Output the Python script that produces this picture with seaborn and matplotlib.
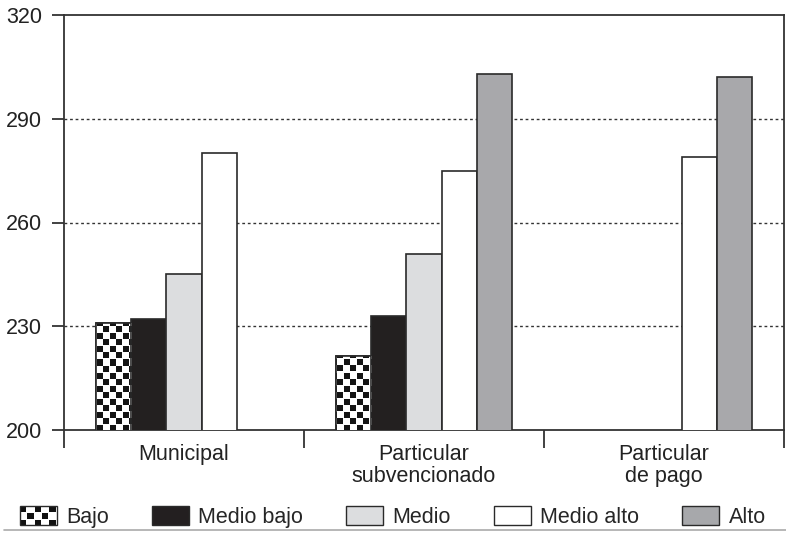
import numpy as np
import pandas as pd
import matplotlib
matplotlib.use("Agg")
import matplotlib.pyplot as plt
import seaborn as sns
from matplotlib.patches import Rectangle
from matplotlib.lines import Line2D
from matplotlib.legend_handler import HandlerBase

# ---- data ----
categories = ["Municipal", "Particular\nsubvencionado", "Particular\nde pago"]
levels = ["Bajo", "Medio bajo", "Medio", "Medio alto", "Alto"]
bajo = [231, 221.5, np.nan]
medio_bajo = [232, 233, np.nan]
medio = [245, 251, np.nan]
medio_alto = [280, 275, 279]
alto = [np.nan, 303, 302]
y_ticks = [200, 230, 260, 290, 320]

series = {"Bajo": bajo, "Medio bajo": medio_bajo, "Medio": medio,
          "Medio alto": medio_alto, "Alto": alto}
rows = []
for lev in levels:
    for cat, v in zip(categories, series[lev]):
        rows.append({"cat": cat, "level": lev, "value": v})
df = pd.DataFrame(rows)

colors = {"Bajo": "#ffffff", "Medio bajo": "#231f20", "Medio": "#dcdddf",
          "Medio alto": "#ffffff", "Alto": "#a7a8ab"}
edge = "#2a2a2a"
FS = 15.5

sns.set_style("white")
plt.rcParams["font.family"] = ["Liberation Sans", "DejaVu Sans"]

fig = plt.figure(figsize=(7.86, 5.39), dpi=100)
ax = fig.add_axes([64/786, 109/539, 720/786, 415/539])

sns.barplot(data=df, x="cat", y="value", hue="level", order=categories,
            hue_order=levels, palette=colors, width=0.73, gap=0,
            edgecolor=edge, linewidth=1.2, ax=ax, legend=False, zorder=3)

ax.set_xlim(-0.5, 2.5)
ax.set_ylim(200, 320)

# checker pattern for Bajo bars
H, W = 415, 720
ii, jj = np.mgrid[0:H, 0:W]
cell = 6.5
ci = np.floor(ii / cell).astype(int)
cj = np.floor(jj / cell).astype(int)
pat = ((ci + cj) % 2 == 0) & ((ii - ci * cell) < 5.8) & ((jj - cj * cell) < 5.8)
img = np.where(pat, 0.08, 1.0)

for bar in ax.containers[0]:
    if np.isfinite(bar.get_height()) and bar.get_height() > 0:
        im = ax.imshow(img, cmap="gray", vmin=0, vmax=1, interpolation="nearest",
                       extent=[0, 1, 0, 1], transform=ax.transAxes, aspect="auto",
                       zorder=3.5)
        im.set_clip_path(bar)
        r = Rectangle((bar.get_x(), bar.get_y()), bar.get_width(), bar.get_height(),
                      fill=False, edgecolor=edge, linewidth=1.2, zorder=4)
        ax.add_patch(r)
ax.set_xlim(-0.5, 2.5)
ax.set_ylim(200, 320)

# grid
for y in [230, 260, 290]:
    ax.axhline(y, color="#333333", linestyle=(0, (2, 2)), linewidth=1.0, zorder=1)

ax.set_yticks(y_ticks)
ax.set_yticklabels([str(t) for t in y_ticks], fontsize=FS)
ax.tick_params(axis="y", direction="out", length=9, width=1.3, color="#333333",
               pad=7, left=True, labelcolor="#222222")

ax.set_xticks([0, 1, 2])
ax.set_xticklabels(categories, fontsize=FS, color="#222222", linespacing=1.1)
ax.tick_params(axis="x", which="major", length=0, pad=10)
ax.set_xticks([-0.5, 0.5, 1.5, 2.5], minor=True)
ax.tick_params(axis="x", which="minor", direction="out", length=13, width=1.3,
               color="#333333", bottom=True)
ax.set_xlabel("")
ax.set_ylabel("")

for s in ax.spines.values():
    s.set_visible(True)
    s.set_color("#333333")
    s.set_linewidth(1.3)


class CheckerHandler(HandlerBase):
    def create_artists(self, legend, orig_handle, xdescent, ydescent, width, height,
                       fontsize, trans):
        arts = [Rectangle((-xdescent, -ydescent), width, height, facecolor="white",
                          edgecolor="none", transform=trans)]
        nx, ny = 5, 3
        cw, ch = width / nx, height / ny
        for a in range(nx):
            for b in range(ny):
                if (a + b) % 2 == 0:
                    arts.append(Rectangle((-xdescent + a * cw, -ydescent + b * ch),
                                          cw * 0.85, ch * 0.85, facecolor="#111111",
                                          edgecolor="none", transform=trans))
        arts.append(Rectangle((-xdescent, -ydescent), width, height, fill=False,
                              edgecolor=edge, linewidth=1.0, transform=trans))
        return arts


handles = []
for lev in levels:
    h = Rectangle((0, 0), 1, 1, facecolor=colors[lev], edgecolor=edge, linewidth=1.0)
    handles.append(h)
leg = fig.legend(handles, levels, loc="center", bbox_to_anchor=(0.5, 22/539), ncol=5,
                 frameon=False, fontsize=FS, handlelength=1.7, handleheight=1.0,
                 handletextpad=0.45, columnspacing=2.0,
                 handler_map={handles[0]: CheckerHandler()})

fig.add_artist(Line2D([0.005, 1.0], [9/539, 9/539], color="#aaaaaa", linewidth=1.2,
                      transform=fig.transFigure))

fig.savefig("out.png", dpi=100)
